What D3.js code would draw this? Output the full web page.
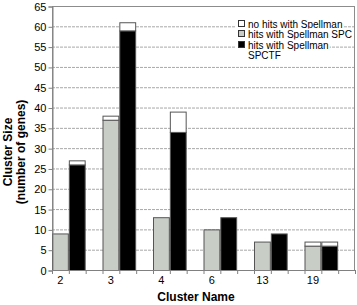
<!DOCTYPE html>
<html>
  <head>
    <script src="https://cdn.jsdelivr.net/npm/d3@7/dist/d3.min.js"></script>
    <style>
      body { margin: 0; background: #fff; }
      text { font-family: "Liberation Sans", Arial, sans-serif; }
    </style>
  </head>
  <body>
    <svg id="chart" width="357" height="305"></svg>
    <script>
      var clusters = ["2", "3", "4", "6", "13", "19"];
      var spcHits = [9, 37, 13, 10, 7, 6];
      var spcNoHits = [0, 1, 0, 0, 0, 1];
      var spctfHits = [26, 59, 34, 13, 9, 6];
      var spctfNoHits = [1, 2, 5, 0, 0, 1];
      var yTicks = d3.range(0, 70, 5);
      var legendLabels = ["no hits with Spellman", "hits with Spellman SPC", ["hits with Spellman", "SPCTF"]];

      var plotL = 52, plotR = 355, plotT = 6, plotB = 270;
      var svg = d3.select("#chart");

      // 3 slots per cluster: SPC bar, SPCTF bar, gap
      var slots = d3.range(clusters.length * 3);
      var x = d3.scaleBand().domain(slots).range([plotL, plotR]).padding(0);
      var y = d3.scaleLinear().domain([0, 65]).range([plotB, plotT]);

      // grid
      svg.append("g").selectAll("line")
        .data(yTicks.filter(d => d > 0 && d < 65)).enter().append("line")
        .attr("x1", plotL).attr("x2", plotR)
        .attr("y1", d => y(d) + 0.5).attr("y2", d => y(d) + 0.5)
        .attr("stroke", "#a8a8a8").attr("stroke-dasharray", "3,1");

      // frame
      svg.append("rect").attr("x", plotL + 0.5).attr("y", plotT + 0.5)
        .attr("width", plotR - plotL - 1).attr("height", plotB - plotT)
        .attr("fill", "none").attr("stroke", "#8c8c8c");

      var bars = [];
      clusters.forEach(function(c, i) {
        bars.push({slot: 3 * i, y0: 0, y1: spcHits[i], fill: "#c8cdc6"});
        if (spcNoHits[i] > 0) bars.push({slot: 3 * i, y0: spcHits[i], y1: spcHits[i] + spcNoHits[i], fill: "#fff"});
        bars.push({slot: 3 * i + 1, y0: 0, y1: spctfHits[i], fill: "#000"});
        if (spctfNoHits[i] > 0) bars.push({slot: 3 * i + 1, y0: spctfHits[i], y1: spctfHits[i] + spctfNoHits[i], fill: "#fff"});
      });

      svg.append("g").selectAll("rect")
        .data(bars).enter().append("rect")
        .attr("x", d => x(d.slot) + 0.5)
        .attr("width", x.bandwidth() - 1)
        .attr("y", d => y(d.y1) + 0.5)
        .attr("height", d => y(d.y0) - y(d.y1))
        .attr("fill", d => d.fill)
        .attr("stroke", "#555").attr("stroke-width", 1);

      // y axis
      var yAxis = svg.append("g").attr("transform", "translate(" + (plotL + 0.5) + ",0.5)")
        .call(d3.axisLeft(y).tickValues(yTicks).tickSize(4).tickPadding(2));
      yAxis.select(".domain").attr("stroke", "#808080");
      yAxis.selectAll(".tick line").attr("stroke", "#808080");
      yAxis.selectAll("text").attr("font-size", 11).attr("fill", "#000");

      // x axis: ticks at slot boundaries, labels under the SPC bar
      var xg = svg.append("g");
      xg.append("line").attr("x1", plotL).attr("x2", plotR + 1)
        .attr("y1", plotB + 0.5).attr("y2", plotB + 0.5).attr("stroke", "#808080");
      xg.selectAll("line.tk").data(slots.concat([slots.length])).enter().append("line")
        .attr("class", "tk")
        .attr("x1", d => (d < slots.length ? x(d) : plotR) + 0.5)
        .attr("x2", d => (d < slots.length ? x(d) : plotR) + 0.5)
        .attr("y1", plotB).attr("y2", plotB + 4).attr("stroke", "#808080");
      xg.selectAll("text").data(clusters).enter().append("text")
        .attr("x", (d, i) => x(3 * i) + x.bandwidth() / 2)
        .attr("y", plotB + 14)
        .attr("text-anchor", "middle").attr("font-size", 11)
        .text(d => d);

      // titles
      svg.append("text").attr("x", 196).attr("y", 301)
        .attr("text-anchor", "middle").attr("font-size", 12).attr("font-weight", "bold")
        .text("Cluster Name");
      var yt = svg.append("text").attr("transform", "translate(0,152) rotate(-90)")
        .attr("text-anchor", "middle").attr("font-size", 12).attr("font-weight", "bold");
      yt.append("tspan").attr("x", 0).attr("y", 12).text("Cluster Size");
      yt.append("tspan").attr("x", 0).attr("y", 25).text("(number of genes)");

      // legend
      var legendFills = ["#fff", "#c8cdc6", "#000"];
      var legendY = [24, 34, 45];
      var lg = svg.append("g");
      legendLabels.forEach(function(lab, i) {
        var g = lg.append("g");
        var t = g.append("text").attr("x", 248).attr("y", legendY[i] + 3.5).attr("font-size", 10);
        if (Array.isArray(lab)) {
          t.append("tspan").attr("x", 248).text(lab[0]);
          t.append("tspan").attr("x", 248).attr("dy", 10).text(lab[1]);
        } else {
          t.text(lab);
        }
        var bb = t.node().getBBox();
        g.insert("rect", "text").attr("x", 236).attr("y", bb.y).attr("width", bb.x + bb.width - 236 + 1)
          .attr("height", bb.height).attr("fill", "#fff");
        g.append("rect").attr("x", 238.5).attr("y", legendY[i] - 3.5).attr("width", 6).attr("height", 6)
          .attr("fill", legendFills[i]).attr("stroke", "#333");
      });
    </script>
  </body>
</html>
